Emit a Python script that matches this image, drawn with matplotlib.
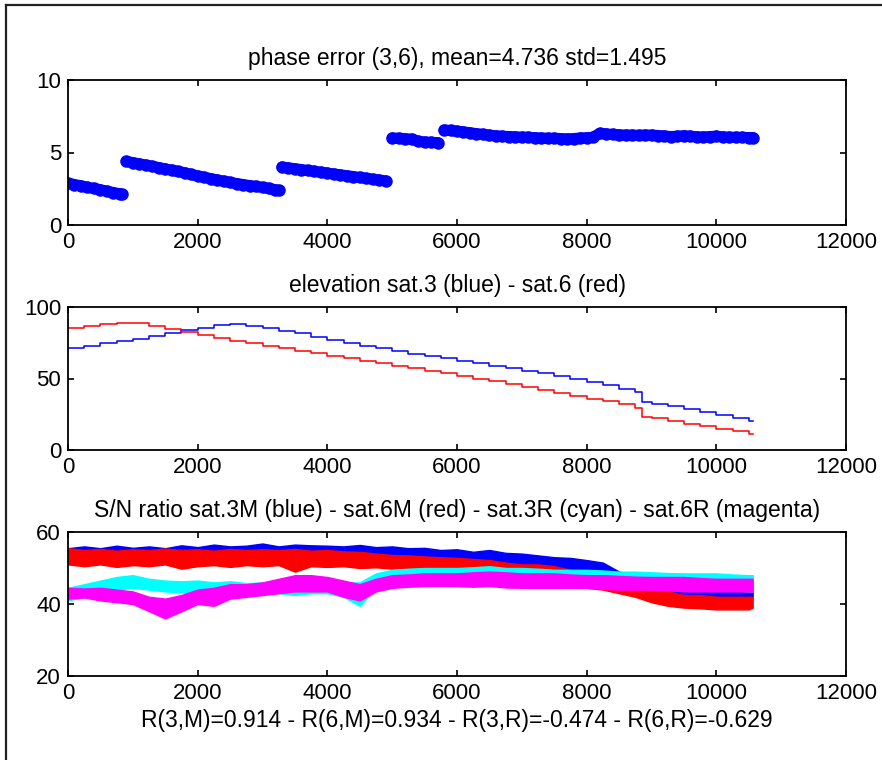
import matplotlib
matplotlib.use("Agg")
import numpy as np
import matplotlib.pyplot as plt
from matplotlib.lines import Line2D

plt.rcParams['font.family'] = ['Liberation Sans', 'DejaVu Sans']
plt.rcParams['font.size'] = 16

# phase error (3,6), one value every ~100 samples
phase_x = [0, 100, 200, 300, 400, 500, 600, 700, 800, 830,
           900, 1000, 1100, 1200, 1300, 1400, 1500, 1600, 1700, 1800, 1900, 2000,
           2100, 2200, 2300, 2400, 2500, 2600, 2700, 2800, 2900, 3000, 3100, 3200, 3250,
           3300, 3400, 3500, 3600, 3700, 3800, 3900, 4000, 4100, 4200, 4300, 4400,
           4500, 4600, 4700, 4800, 4900,
           5000, 5100, 5200, 5300, 5400, 5500, 5600, 5700,
           5800, 5900, 6000, 6100, 6200, 6300, 6400, 6500, 6600, 6700, 6800, 6900,
           7000, 7100, 7200, 7300, 7400, 7500, 7600, 7700, 7800, 7900, 8000, 8100,
           8200, 8300, 8400, 8500, 8600, 8700, 8800, 8900, 9000, 9100, 9200, 9300,
           9400, 9500, 9600, 9700, 9800, 9900, 10000, 10100, 10200, 10300, 10400,
           10500, 10560]
phase_y = [2.88, 2.79, 2.70, 2.60, 2.52, 2.43, 2.33, 2.24, 2.15, 2.12,
           4.39, 4.30, 4.22, 4.13, 4.05, 3.96, 3.87, 3.78, 3.69, 3.60, 3.49, 3.38,
           3.29, 3.20, 3.11, 3.02, 2.94, 2.86, 2.79, 2.72, 2.66, 2.60, 2.52, 2.43, 2.40,
           4.00, 3.94, 3.88, 3.82, 3.76, 3.70, 3.64, 3.58, 3.52, 3.46, 3.40, 3.34,
           3.28, 3.22, 3.16, 3.10, 3.04,
           6.00, 5.98, 5.95, 5.92, 5.78, 5.72, 5.70, 5.68,
           6.55, 6.52, 6.47, 6.42, 6.36, 6.30, 6.25, 6.20, 6.15, 6.12, 6.10, 6.08,
           6.06, 6.05, 6.02, 6.00, 5.98, 5.98, 5.96, 5.94, 5.96, 6.00, 6.02, 6.05,
           6.32, 6.28, 6.25, 6.22, 6.20, 6.20, 6.18, 6.20, 6.20, 6.17, 6.14, 6.10,
           6.12, 6.16, 6.12, 6.08, 6.07, 6.10, 6.12, 6.08, 6.05, 6.05, 6.04,
           6.03, 6.03]

# elevation of the two satellites (deg)
elev_x = [0, 250, 500, 750, 1000, 1250, 1500, 1750, 2000, 2250, 2500, 2750, 3000,
          3250, 3500, 3750, 4000, 4250, 4500, 4750, 5000, 5250, 5500, 5750, 6000,
          6250, 6500, 6750, 7000, 7250, 7500, 7750, 8000, 8250, 8500, 8750, 8850,
          8860, 9000, 9250, 9500, 9750, 10000, 10250, 10500, 10560]
elev_sat3 = [71.5, 73, 74.5, 76, 77.5, 79.5, 82, 84, 85.5, 87.5, 88, 87, 85.5,
             83.5, 81.5, 79, 77, 75, 73, 71, 69, 67, 65.5, 64, 62.5,
             61, 59, 57, 55.5, 53.5, 51.5, 49.5, 47.5, 45.5, 43, 40.5, 38,
             33.5, 32.5, 30.5, 28.5, 26.5, 24.5, 22.5, 20.5, 20]
elev_sat6 = [85, 86.5, 88, 89, 88.5, 87, 84.5, 82.5, 80.5, 78.5, 76.5, 74.5, 72.5,
             71, 69.5, 67.5, 66, 64.5, 62.5, 60.5, 59, 57, 55, 53.5, 52,
             50, 48, 46, 44, 42, 40, 38, 36, 34, 32, 29.5, 28,
             23, 22.5, 20.5, 18.5, 16.5, 15, 13, 11.5, 11]

# S/N ratio: lower and upper edge of each noisy band, every 250 samples
sn_x = [0, 250, 500, 750, 1000, 1250, 1500, 1750, 2000, 2250, 2500,
        2750, 3000, 3250, 3500, 3750, 4000, 4250, 4500, 4750, 5000, 5250,
        5500, 5750, 6000, 6250, 6500, 6750, 7000, 7250, 7500, 7750, 8000,
        8250, 8500, 8750, 9000, 9250, 9500, 9750, 10000, 10250, 10500, 10560]
sn3m_hi = [55.5, 56, 55.5, 56.2, 55.6, 56, 55.5, 56.3, 55.8, 56.5, 56,
           56.2, 56.8, 56, 56.5, 56.3, 56.2, 56, 56.4, 55.8, 56, 55.5,
           55.6, 55, 55.2, 54.5, 55, 54.2, 54, 53.5, 53, 52.8, 52.2,
           51.5, 49, 48, 47, 46.5, 46, 45.5, 45.5, 45, 45, 45]
sn3m_lo = [52.5, 52.3, 52.6, 52.4, 52.5, 52.3, 52.6, 52.5, 52.4, 52.6, 52.5,
           52.3, 52.5, 52.6, 52.4, 52.5, 52.5, 52.3, 52.5, 52.2, 52.3, 52,
           51.8, 51.6, 51.3, 51, 50.6, 50.3, 50, 49.8, 49.4, 49, 48.6,
           47.5, 45, 44, 43, 42.8, 42.5, 42.3, 42, 42, 41.8, 42]
sn6m_hi = [55.5, 55, 55.3, 54.8, 55.2, 55, 55.4, 55, 55.2, 54.8, 55.3,
           55, 55.2, 55, 55.3, 54.8, 55, 54.6, 54.5, 54, 53.6, 53.5,
           53.2, 53, 52.8, 52.5, 52.2, 51.5, 51, 51, 50.5, 49.5, 47.5,
           47, 46, 45.5, 44, 43.5, 42.5, 42.5, 42, 42, 42, 42]
sn6m_lo = [51, 50.5, 51, 50.3, 50.8, 50.5, 51, 49.8, 50.5, 50.8, 50.3,
           50.8, 50.5, 50.8, 49, 50.5, 50.3, 50.5, 50, 50.2, 49.8, 50,
           49.6, 49.5, 49.3, 49, 48.5, 48.5, 48, 47.8, 47.5, 46.5, 44.5,
           44, 43, 42, 40.5, 39.5, 39, 38.8, 38.5, 38.5, 38.5, 39]
sn3r_hi = [44.5, 45.5, 46.5, 47.5, 48, 47, 46.5, 46.3, 46.5, 46, 46.3,
           45.8, 46, 46.3, 46.5, 46, 46.5, 46, 46, 48.5, 49.5, 49.8,
           50, 50, 50, 50.2, 50.5, 50, 50, 49.8, 49.5, 49.5, 49.5,
           49.3, 49, 49, 48.8, 48.6, 48.5, 48.5, 48.5, 48.2, 48, 48]
sn3r_lo = [41, 42, 43, 44, 44.5, 44, 43.5, 43.2, 43, 43.2, 43,
           42.8, 43, 43, 42.5, 43, 43, 42, 39.5, 44.5, 46, 46.2,
           46.5, 46.8, 47, 47, 47, 46.8, 46.5, 46.5, 46.5, 46.5, 46.5,
           46, 45.5, 45.2, 45, 44.8, 44.5, 44.2, 44, 43.8, 43.5, 43.5]
sn6r_hi = [44.5, 44.3, 44.5, 44, 43.5, 42, 41.5, 42.5, 44, 44.5, 45.5,
           45.5, 46, 47, 48, 48, 47.5, 46.5, 45.5, 47, 48, 48.2,
           48.5, 48.5, 48.5, 48.8, 49, 48.8, 48.5, 48.5, 48.5, 48.2, 48,
           48, 47.8, 47.6, 47.5, 47.5, 47.5, 47.2, 47, 47, 47, 47]
sn6r_lo = [41.5, 41.8, 41, 40.5, 40, 38, 36, 38, 40, 39.5, 41.5,
           42, 42.5, 43, 43.5, 43.5, 43.5, 42, 41, 43.5, 44.5, 44.8,
           45, 45, 45, 44.8, 45, 44.6, 44.5, 44.5, 44.5, 44.5, 44.5,
           44.2, 44, 44, 44, 43.8, 43.5, 43.5, 43.5, 43.5, 43.5, 43.5]

title1 = "phase error (3,6), mean=4.736 std=1.495"
title2 = "elevation sat.3 (blue) - sat.6 (red)"
title3 = "S/N ratio sat.3M (blue) - sat.6M (red) - sat.3R (cyan) - sat.6R (magenta)"
corr_label = "R(3,M)=0.914 - R(6,M)=0.934 - R(3,R)=-0.474 - R(6,R)=-0.629"

xticks = [0, 2000, 4000, 6000, 8000, 10000, 12000]

fig = plt.figure(figsize=(8.82, 7.60), dpi=100)
W, H = 882.0, 760.0


def make_axes(top, bottom):
    ax = fig.add_axes([68 / W, 1 - bottom / H, (846 - 68) / W, (bottom - top) / H])
    ax.set_xlim(0, 12000)
    ax.set_xticks(xticks)
    ax.tick_params(direction='in', top=True, right=True, length=4, width=1.2,
                   pad=5, labelsize=16)
    for s in ax.spines.values():
        s.set_linewidth(1.3)
    return ax


ax1 = make_axes(80, 225)
# the dots are so dense they form a thick band; break it where the value jumps
px = np.array(phase_x)
py = np.array(phase_y)
cuts = np.where(np.abs(np.diff(py)) > 0.5)[0] + 1
for sx, sy in zip(np.split(px, cuts), np.split(py, cuts)):
    ax1.plot(sx, sy, '-', color='#0000ff', lw=8, solid_capstyle='round')
ax1.plot(px, py, 'o', color='#0000ff', markersize=9, markeredgewidth=0)
ax1.set_ylim(0, 10)
ax1.set_yticks([0, 5, 10])
ax1.set_title(title1, fontsize=16.5, pad=11)

ax2 = make_axes(307, 450)
ax2.plot(elev_x, elev_sat3, color='#0000ff', lw=1.1, drawstyle='steps-post')
ax2.plot(elev_x, elev_sat6, color='#ff0000', lw=1.1, drawstyle='steps-post')
ax2.set_ylim(0, 100)
ax2.set_yticks([0, 50, 100])
ax2.set_title(title2, fontsize=16.5, pad=11)

ax3 = make_axes(532, 676)
for lo, hi, c in [(sn3m_lo, sn3m_hi, '#0000ff'), (sn6m_lo, sn6m_hi, '#ff0000'),
                  (sn3r_lo, sn3r_hi, '#00ffff'), (sn6r_lo, sn6r_hi, '#ff00ff')]:
    ax3.fill_between(sn_x, lo, hi, color=c, lw=1.0)
ax3.set_ylim(20, 60)
ax3.set_yticks([20, 40, 60])
ax3.set_title(title3, fontsize=16.5, pad=11)
ax3.set_xlabel(corr_label, fontsize=16.5, labelpad=4)

# border lines at the top and left of the figure
fig.add_artist(Line2D([6 / W, 1], [1 - 5 / H, 1 - 5 / H], color='#222222', lw=1.6))
fig.add_artist(Line2D([6 / W, 6 / W], [0, 1 - 5 / H], color='#222222', lw=1.6))

fig.savefig("out.png", dpi=100)
